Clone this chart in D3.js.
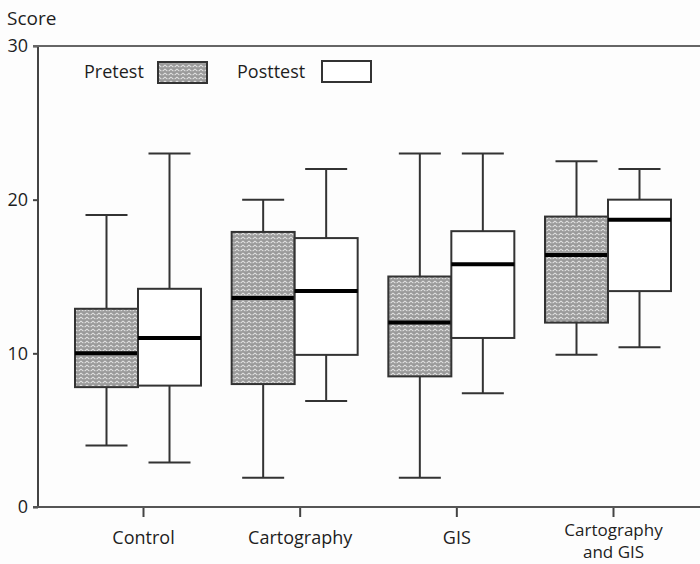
<!DOCTYPE html>
<html>
<head>
<meta charset="utf-8">
<script src="https://cdn.jsdelivr.net/npm/d3@7"></script>
<style>
  body { margin: 0; background: #fdfdfd; }
  text { font-family: "Open Sans", "Noto Sans", sans-serif; fill: #1e1e1e; }
</style>
</head>
<body>
<div id="canvas"></div>
<script>
// groups on the x axis (last one wraps onto two lines)
var groups = ["Control", "Cartography", "GIS", "Cartography and GIS"];
var groupLines = [["Control"], ["Cartography"], ["GIS"], ["Cartography", "and GIS"]];
var yTicks = [0, 10, 20, 30];

// five-number summaries: [low, q1, median, q3, high]
var pretest = [
  [4, 7.8, 10, 12.9, 19],
  [1.9, 8, 13.6, 17.9, 20],
  [1.9, 8.5, 12, 15, 23],
  [9.9, 12, 16.4, 18.9, 22.5]
];
var posttest = [
  [2.9, 7.9, 11, 14.2, 23],
  [6.9, 9.9, 14.05, 17.5, 22],
  [7.4, 11, 15.8, 17.95, 23],
  [10.4, 14.05, 18.7, 20, 22]
];

var width = 700, height = 564;

var svg = d3.select("#canvas")
  .append("svg")
  .attr("width", width)
  .attr("height", height);

// herringbone fill for pretest boxes: columns of small chevrons
var defs = svg.append("defs");
var pat = defs.append("pattern")
  .attr("id", "zigzag")
  .attr("patternUnits", "userSpaceOnUse")
  .attr("width", 6)
  .attr("height", 4);
pat.append("rect").attr("width", 6).attr("height", 4).attr("fill", "#9a9a9a");
pat.append("path")
  .attr("d", "M0.6,3.2 L3,1.2 L5.4,3.2")
  .attr("fill", "none")
  .attr("stroke", "#e2e2e2")
  .attr("stroke-width", 1.1);

var x = d3.scalePoint().domain(groups).range([143, 613]);
var y = d3.scaleLinear().domain([0, 30]).range([507, 46]);

var boxW = 63, capW = 42;

// axes
var yAxis = svg.append("g")
  .attr("transform", "translate(38,0)")
  .call(d3.axisLeft(y).tickValues(yTicks).tickSize(5).tickPadding(5));
yAxis.select(".domain").remove();
yAxis.selectAll(".tick line").attr("stroke", "#444").attr("stroke-width", 2);
yAxis.selectAll(".tick text").style("font-size", "18px");

var xAxis = svg.append("g")
  .attr("transform", "translate(0," + y(0) + ")")
  .call(d3.axisBottom(x).tickSize(10).tickFormat(""));
xAxis.select(".domain").remove();
xAxis.selectAll(".tick line").attr("stroke", "#444").attr("stroke-width", 2);

xAxis.selectAll(".tick").each(function(d, i) {
  var lines = groupLines[i];
  var base = lines.length > 1 ? 29 : 37;
  var fs = lines.length > 1 ? "17px" : "18px";
  var sel = d3.select(this);
  lines.forEach(function(l, j) {
    sel.append("text")
      .attr("text-anchor", "middle")
      .attr("x", 0).attr("y", base + j * 22)
      .style("font-size", fs)
      .text(l);
  });
});

// frame lines: y axis, top line, bottom line
svg.append("line").attr("x1", 38).attr("x2", 38).attr("y1", y(30)).attr("y2", y(0))
  .attr("stroke", "#444").attr("stroke-width", 2);
svg.append("line").attr("x1", 33).attr("x2", width).attr("y1", y(30)).attr("y2", y(30))
  .attr("stroke", "#666").attr("stroke-width", 2);
svg.append("line").attr("x1", 33).attr("x2", width).attr("y1", y(0)).attr("y2", y(0))
  .attr("stroke", "#555").attr("stroke-width", 2);

svg.append("text").attr("x", 7).attr("y", 25).style("font-size", "19px").text("Score");

// draw one box with whiskers
function drawBox(s, left, fill) {
  var cx = left + boxW / 2;
  var g = svg.append("g");
  g.append("line").attr("x1", cx).attr("x2", cx).attr("y1", y(s[0])).attr("y2", y(s[1]))
    .attr("stroke", "#333").attr("stroke-width", 2);
  g.append("line").attr("x1", cx).attr("x2", cx).attr("y1", y(s[3])).attr("y2", y(s[4]))
    .attr("stroke", "#333").attr("stroke-width", 2);
  g.append("line").attr("x1", cx - capW / 2).attr("x2", cx + capW / 2).attr("y1", y(s[0])).attr("y2", y(s[0]))
    .attr("stroke", "#333").attr("stroke-width", 2);
  g.append("line").attr("x1", cx - capW / 2).attr("x2", cx + capW / 2).attr("y1", y(s[4])).attr("y2", y(s[4]))
    .attr("stroke", "#333").attr("stroke-width", 2);
  g.append("rect").attr("x", left).attr("y", y(s[3]))
    .attr("width", boxW).attr("height", y(s[1]) - y(s[3]))
    .attr("fill", fill).attr("stroke", "#333").attr("stroke-width", 2);
  g.append("line").attr("x1", left).attr("x2", left + boxW).attr("y1", y(s[2])).attr("y2", y(s[2]))
    .attr("stroke", "#000").attr("stroke-width", 4);
}

groups.forEach(function(gname, i) {
  var c = x(gname) - 5;
  drawBox(pretest[i], c - boxW, "url(#zigzag)");
  drawBox(posttest[i], c, "#fff");
});

// legend
svg.append("text").attr("x", 84).attr("y", 78).style("font-size", "18px").text("Pretest");
svg.append("rect").attr("x", 158).attr("y", 62).attr("width", 49).attr("height", 21)
  .attr("fill", "url(#zigzag)").attr("stroke", "#333").attr("stroke-width", 2);
svg.append("text").attr("x", 237).attr("y", 78).style("font-size", "18px").text("Posttest");
svg.append("rect").attr("x", 322).attr("y", 61).attr("width", 49).attr("height", 21)
  .attr("fill", "#fff").attr("stroke", "#333").attr("stroke-width", 2);
</script>
</body>
</html>
